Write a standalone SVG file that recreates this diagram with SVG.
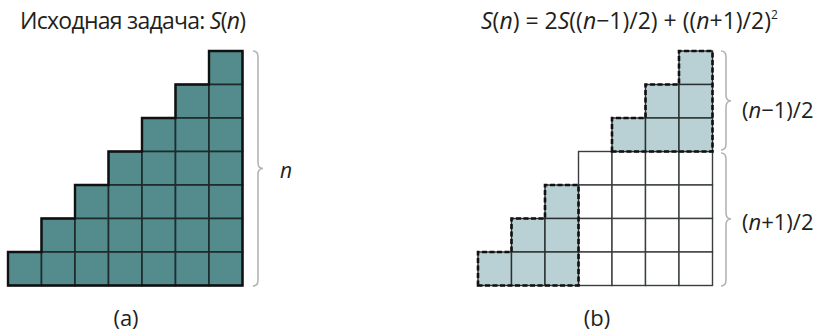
<svg xmlns="http://www.w3.org/2000/svg" width="817" height="331" viewBox="0 0 817 331">
<style>
text{font-family:"Open Sans","Liberation Sans",sans-serif;fill:#231f20}
.it{font-style:italic}
.teal{fill:#548c8d;stroke:#1d2b2c;stroke-width:1.6}
.shade{fill:#b9d1d4;stroke:#2a2f30;stroke-width:1.4}
.white{fill:#ffffff;stroke:#3a3d3e;stroke-width:1.4}
.outline{fill:none;stroke:#111;stroke-width:2.4;stroke-linejoin:miter}
.dash{fill:none;stroke:#111;stroke-width:2.6;stroke-dasharray:5 2.5}
.brace{fill:none;stroke:#b4b4b4;stroke-width:1.6}
</style>
<defs>
<rect id="c" width="33.5" height="33.5"/>
</defs>
<g id="title-a"><text x="20" y="29" font-size="23" textLength="226">Исходная задача: <tspan class="it">S</tspan>(<tspan class="it">n</tspan>)</text></g>
<g id="title-b"><text x="481" y="29" font-size="23"><tspan class="it">S</tspan>(<tspan class="it">n</tspan>) = 2<tspan class="it">S</tspan>((<tspan class="it">n</tspan>−1)/2) + ((<tspan class="it">n</tspan>+1)/2)<tspan font-size="12" dy="-10">2</tspan></text></g>
<g id="figure-a">
<g class="teal">
<use href="#c" x="209" y="51"/>
<use href="#c" x="175.5" y="84.5"/><use href="#c" x="209" y="84.5"/>
<use href="#c" x="142" y="118"/><use href="#c" x="175.5" y="118"/><use href="#c" x="209" y="118"/>
<use href="#c" x="108.5" y="151.5"/><use href="#c" x="142" y="151.5"/><use href="#c" x="175.5" y="151.5"/><use href="#c" x="209" y="151.5"/>
<use href="#c" x="75" y="185"/><use href="#c" x="108.5" y="185"/><use href="#c" x="142" y="185"/><use href="#c" x="175.5" y="185"/><use href="#c" x="209" y="185"/>
<use href="#c" x="41.5" y="218.5"/><use href="#c" x="75" y="218.5"/><use href="#c" x="108.5" y="218.5"/><use href="#c" x="142" y="218.5"/><use href="#c" x="175.5" y="218.5"/><use href="#c" x="209" y="218.5"/>
<use href="#c" x="8" y="252"/><use href="#c" x="41.5" y="252"/><use href="#c" x="75" y="252"/><use href="#c" x="108.5" y="252"/><use href="#c" x="142" y="252"/><use href="#c" x="175.5" y="252"/><use href="#c" x="209" y="252"/>
</g>
<path class="outline" d="M8 285.5V252H41.5V218.5H75V185H108.5V151.5H142V118H175.5V84.5H209V51H242.5V285.5Z"/>
</g>
<g id="figure-b">
<g class="white">
<use href="#c" x="578.5" y="151.5"/><use href="#c" x="612" y="151.5"/><use href="#c" x="645.5" y="151.5"/><use href="#c" x="679" y="151.5"/>
<use href="#c" x="578.5" y="185"/><use href="#c" x="612" y="185"/><use href="#c" x="645.5" y="185"/><use href="#c" x="679" y="185"/>
<use href="#c" x="578.5" y="218.5"/><use href="#c" x="612" y="218.5"/><use href="#c" x="645.5" y="218.5"/><use href="#c" x="679" y="218.5"/>
<use href="#c" x="578.5" y="252"/><use href="#c" x="612" y="252"/><use href="#c" x="645.5" y="252"/><use href="#c" x="679" y="252"/>
</g>
<g class="shade">
<use href="#c" x="679" y="51"/>
<use href="#c" x="645.5" y="84.5"/><use href="#c" x="679" y="84.5"/>
<use href="#c" x="612" y="118"/><use href="#c" x="645.5" y="118"/><use href="#c" x="679" y="118"/>
<use href="#c" x="545" y="185"/>
<use href="#c" x="511.5" y="218.5"/><use href="#c" x="545" y="218.5"/>
<use href="#c" x="478" y="252"/><use href="#c" x="511.5" y="252"/><use href="#c" x="545" y="252"/>
</g>
<path class="dash" d="M612 151.5V118H645.5V84.5H679V51H712.5V151.5Z"/>
<path class="dash" d="M478 285.5V252H511.5V218.5H545V185H578.5V285.5Z"/>
</g>
<g id="braces">
<path class="brace" d="M253 51Q258 51 258 57V162.5Q258 168.5 263 168.5Q258 168.5 258 174.5V280Q258 286 253 286"/>
<path class="brace" d="M721 51Q726 51 726 57V95Q726 101 731 101Q726 101 726 107V144Q726 150 721 150"/>
<path class="brace" d="M721 153Q726 153 726 159V213Q726 219 731 219Q726 219 726 225V280Q726 286 721 286"/>
</g>
<g id="labels">
<text x="280" y="178" font-size="21" class="it">n</text>
<text x="742" y="118" font-size="22">(<tspan class="it">n</tspan>−1)/2</text>
<text x="742" y="230" font-size="22">(<tspan class="it">n</tspan>+1)/2</text>
<text x="126" y="326" font-size="22" text-anchor="middle">(a)</text>
<text x="597" y="326" font-size="22" text-anchor="middle">(b)</text>
</g>
</svg>
